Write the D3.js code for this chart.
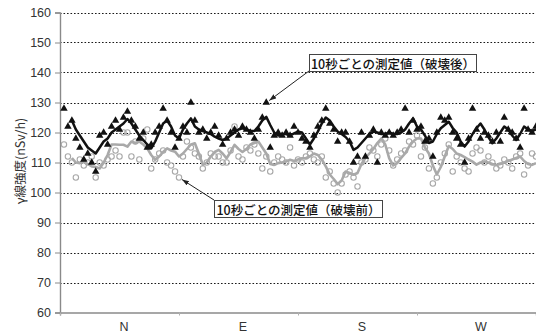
<!DOCTYPE html>
<html>
<head>
<meta charset="utf-8">
<script src="https://cdn.jsdelivr.net/npm/d3@7/dist/d3.min.js"></script>
<style>
  html, body { margin: 0; padding: 0; background: #fff; }
  svg { display: block; }
</style>
</head>
<body>
<svg id="chart" width="536" height="336"></svg>
<script>
// Compass sectors along the horizontal axis
const directions = ["N", "E", "S", "W"];
const sectorBounds = [0, 90, 180, 270, 360];
const sectorCenters = [45, 135, 225, 315];
const yTicks = [60, 70, 80, 90, 100, 110, 120, 130, 140, 150, 160];

// Measurement angle (degrees) of every 10-second reading, one each 3 degrees
const angles = d3.range(3, 361, 3);

// Gamma dose rate readings after demolition (nSv/h)
const afterValues = [
  128, 122, 124, 118, 115, 111, 113, 110, 107, 119,
  120, 116, 122, 124, 121, 125, 127, 124, 122, 118,
  120, 115, 116, 120, 122, 128, 124, 120, 115, 118,
  122, 120, 130, 124, 120, 121, 118, 120, 122, 119,
  116, 118, 120, 121, 119, 122, 121, 120, 118, 121,
  125, 130, 115, 119, 120, 119, 120, 119, 122, 120,
  118, 117, 115, 119, 122, 124, 128, 123, 121, 117,
  120, 120, 117, 110, 112, 120, 112, 119, 121, 110,
  120, 119, 120, 119, 120, 121, 128, 120, 124, 121,
  122, 117, 118, 112, 120, 125, 124, 125, 120, 118,
  116, 110, 118, 128, 121, 118, 120, 119, 117, 120,
  117, 125, 121, 120, 118, 115, 128, 121, 120, 122
];

// Gamma dose rate readings before demolition (nSv/h)
const beforeValues = [
  116, 112, 110, 105, 111, 109, 110, 112, 105, 110,
  109, 111, 112, 114, 112, 120, 120, 112, 117, 111,
  118, 121, 108, 111, 113, 114, 110, 109, 107, 105,
  112, 117, 115, 113, 112, 108, 110, 113, 112, 112,
  110, 110, 114, 122, 112, 111, 115, 114, 116, 113,
  108, 112, 107, 110, 112, 111, 110, 115, 109, 111,
  110, 112, 113, 111, 110, 112, 105, 107, 103, 100,
  103, 106, 107, 105, 102, 110, 111, 115, 114, 112,
  116, 118, 114, 109, 111, 113, 114, 117, 116, 119,
  112, 115, 108, 103, 105, 110, 113, 116, 107, 112,
  110, 108, 107, 113, 115, 114, 110, 112, 110, 108,
  109, 111, 110, 108, 112, 113, 106, 109, 113, 112
];

// Moving-average trend after demolition (first two readings have no average)
const afterTrend = [
  null, null, 124, 121, 119, 117, 115, 114, 113, 115,
  117, 118, 120, 121, 122, 123, 124.5, 123, 121, 119,
  117.5, 116, 114.7, 117, 120, 123, 124, 122, 119, 118,
  121, 123, 124.7, 122, 121, 120.5, 120, 119.5, 118.6, 118,
  117.5, 118, 119, 120, 121, 121.4, 121, 120.5, 120.5, 122,
  124, 125.2, 122.5, 120, 119, 119.5, 119.5, 119, 119.7, 120.3,
  120, 118, 116, 118, 120.3, 123, 125, 124, 122, 120.3,
  119.5, 118.5, 117, 114.2, 115, 116.5, 118, 119.5, 120.3, 120,
  119.5, 119.5, 120, 119.5, 119.5, 120, 121, 123, 124.7, 122,
  121, 119, 116.5, 117, 119.5, 121.4, 122.5, 123.6, 121.5, 120,
  117, 115.3, 117, 119.5, 121.4, 123, 121, 118.5, 116.4, 118,
  120, 122, 121, 119, 117.5, 119.5, 122, 121, 120.5, 121
];

// Moving-average trend before demolition
const beforeTrend = [
  null, null, 111.5, 110, 109.8, 110.3, 109.5, 108.7, 108.5, 108,
  110, 112.5, 116, 116, 115.9, 115.9, 115.3, 117, 116.5, 117,
  116, 114.7, 112.5, 110.9, 112, 113.5, 114.7, 114, 113.6, 112,
  113, 114.5, 116, 116.4, 113, 109.2, 110, 112, 113.5, 114.2,
  113, 111.4, 113.5, 115.9, 114.5, 113.5, 114.5, 116, 116.5, 117,
  115, 113, 109.5, 109.2, 109.8, 110, 110.3, 110.9, 110.5, 111,
  111.4, 111.5, 112, 113, 112.5, 111, 108.7, 106, 104.5, 102.8,
  104, 107, 106.5, 105.9, 106.5, 109.5, 111.5, 113, 114.5, 116.5,
  118, 116, 111.4, 109, 109.8, 111.5, 113, 115.3, 117, 118,
  118, 115, 113, 109, 106, 108.5, 112, 115.5, 114.5, 113,
  112.5, 111.8, 111, 110.3, 109.3, 110, 110.3, 110, 109.5, 109.2,
  109.5, 110, 110.5, 111, 111.5, 112, 110.5, 109.5, 109.2, 109.8
];

const afterLabel = "10秒ごとの測定値（破壊後）";
const beforeLabel = "10秒ごとの測定値（破壊前）";
const yTitle = "γ線強度(nSv/h)";

const W = 536, H = 336;
const margin = { top: 12.5, right: 0, bottom: 23.5, left: 60 };

const svg = d3.select("#chart");
const x = d3.scaleLinear().domain([0, 360]).range([margin.left, W - margin.right]);
const y = d3.scaleLinear().domain([60, 160]).range([H - margin.bottom, margin.top]);

const latin = "'Liberation Sans', Arial, sans-serif";
const cjk = "'Noto Sans CJK JP', sans-serif";

// Dotted horizontal gridlines
svg.append("g")
  .selectAll("line")
  .data(yTicks.filter(t => t > 60))
  .join("line")
  .attr("x1", x(0)).attr("x2", x(360))
  .attr("y1", d => Math.round(y(d)) + 0.5)
  .attr("y2", d => Math.round(y(d)) + 0.5)
  .attr("stroke", "#1a1a1a")
  .attr("stroke-width", 1.2)
  .attr("stroke-dasharray", "1.6,1.9");

// Y axis
const yAxis = svg.append("g")
  .attr("transform", `translate(${x(0)},0)`)
  .call(d3.axisLeft(y).tickValues(yTicks).tickSize(5).tickPadding(4));
yAxis.select(".domain").attr("stroke", "#8a8a8a").attr("stroke-width", 1.4);
yAxis.selectAll(".tick line").attr("stroke", "#8a8a8a");
yAxis.selectAll(".tick text")
  .attr("fill", "#333")
  .style("font-family", latin)
  .style("font-size", "12.5px");

// X axis: sector boundaries as ticks, direction names centred in each sector
const xAxis = svg.append("g")
  .attr("transform", `translate(0,${y(60)})`)
  .call(d3.axisBottom(x).tickValues(sectorBounds).tickSize(3).tickFormat(""));
xAxis.select(".domain").attr("stroke", "#8a8a8a").attr("stroke-width", 1.4);
xAxis.selectAll(".tick line").attr("stroke", "#b0b0b0");

const xLabels = svg.append("g")
  .attr("transform", `translate(0,${y(60)})`)
  .call(d3.axisBottom(x).tickValues(sectorCenters).tickSize(0).tickPadding(10)
    .tickFormat((d, i) => directions[i]));
xLabels.select(".domain").remove();
xLabels.selectAll(".tick text")
  .attr("dx", 4)
  .attr("fill", "#333")
  .style("font-family", latin)
  .style("font-size", "12.5px");

// Y axis title
svg.append("text")
  .attr("transform", `translate(19,${y(110.5)}) rotate(-90)`)
  .attr("text-anchor", "middle")
  .attr("dominant-baseline", "central")
  .attr("fill", "#333")
  .style("font-family", cjk)
  .style("font-size", "12.5px")
  .text(yTitle);

const plot = svg.append("g");

// Readings before demolition: open grey circles
plot.append("g")
  .selectAll("circle")
  .data(beforeValues)
  .join("circle")
  .attr("cx", (d, i) => x(angles[i]))
  .attr("cy", d => y(d))
  .attr("r", 2.7)
  .attr("fill", "none")
  .attr("stroke", "#a8a8a8")
  .attr("stroke-width", 1.1);

const line = d3.line()
  .defined(d => d.v != null)
  .x(d => x(d.a))
  .y(d => y(d.v));

plot.append("path")
  .datum(beforeTrend.map((v, i) => ({ a: angles[i], v })))
  .attr("d", line)
  .attr("fill", "none")
  .attr("stroke", "#a9a9a9")
  .attr("stroke-width", 2.6)
  .attr("stroke-linejoin", "round");

// Readings after demolition: filled black triangles
plot.append("g")
  .selectAll("path")
  .data(afterValues)
  .join("path")
  .attr("d", d3.symbol(d3.symbolTriangle, 24))
  .attr("transform", (d, i) => `translate(${x(angles[i])},${y(d)})`)
  .attr("fill", "#111");

plot.append("path")
  .datum(afterTrend.map((v, i) => ({ a: angles[i], v })))
  .attr("d", line)
  .attr("fill", "none")
  .attr("stroke", "#111")
  .attr("stroke-width", 2.5)
  .attr("stroke-linejoin", "round");

// Callout boxes with leader arrows
svg.append("defs").append("marker")
  .attr("id", "arrow")
  .attr("viewBox", "0 0 10 10")
  .attr("refX", 10).attr("refY", 5)
  .attr("markerWidth", 7).attr("markerHeight", 7)
  .attr("orient", "auto")
  .append("path")
  .attr("d", "M0,1.5 L10,5 L0,8.5 Z")
  .attr("fill", "#222");

function callout(label, bx, by, bw, bh, corner, targetAngle, targetValue) {
  const g = svg.append("g");
  const cy = corner === "bottom" ? by + bh : by;
  g.append("line")
    .attr("x1", bx).attr("y1", cy)
    .attr("x2", x(targetAngle) + 3)
    .attr("y2", y(targetValue) + (corner === "bottom" ? -2 : 2))
    .attr("stroke", "#222")
    .attr("stroke-width", 1)
    .attr("marker-end", "url(#arrow)");
  g.append("rect")
    .attr("x", bx + 0.5).attr("y", by + 0.5)
    .attr("width", bw).attr("height", bh)
    .attr("fill", "#fff")
    .attr("stroke", "#444")
    .attr("stroke-width", 1);
  g.append("text")
    .attr("x", bx + bw / 2 + 0.5)
    .attr("y", by + bh / 2 + 1)
    .attr("text-anchor", "middle")
    .attr("dominant-baseline", "central")
    .attr("fill", "#111")
    .style("font-family", cjk)
    .style("font-size", "12.5px")
    .style("font-weight", "500")
    .text(label);
}

callout(afterLabel, 309, 54, 167, 17, "bottom", angles[51], afterValues[51]);
callout(beforeLabel, 214, 200, 168, 17, "top", angles[29], beforeValues[29]);
</script>
</body>
</html>
